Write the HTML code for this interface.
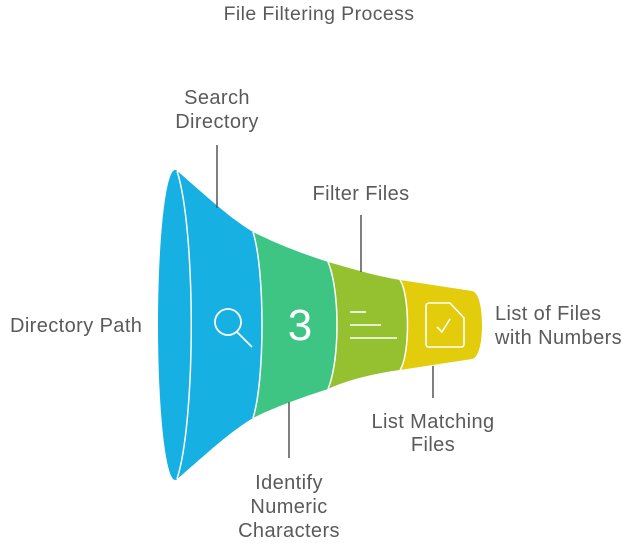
<!DOCTYPE html>
<html><head><style>
body{margin:0;background:#fff;}
svg text{font-family:"Liberation Sans",sans-serif;fill:#5a5a5a;font-size:20px;letter-spacing:0.4px;}
</style></head><body>
<svg width="638" height="542" viewBox="0 0 638 542" xmlns="http://www.w3.org/2000/svg">
<text x="319" y="20" text-anchor="middle" style="font-size:19.5px">File Filtering Process</text>
<path d="M472,291 C478,292 482,305 482,325 C482,345 478,358 472,359 L400,370 C410,355 410,295 400,280 Z" fill="#e2cc0b"/>
<path d="M400,280 C410,295 410,355 400,370 C370,374 345,381 328,389 C340,360 340,290 328,262 C350,268 375,276 400,280 Z" fill="#95c131"/>
<path d="M328,262 C340,290 340,360 328,389 C300,398 275,407 253,418 C265,380 265,270 253,232 C275,243 300,253 328,262 Z" fill="#3ec583"/>
<path d="M176,170 C200,190 225,215 253,232 C265,270 265,380 253,418 C225,435 200,460 176,480 Z" fill="#16b0e2"/>
<ellipse cx="175" cy="325" rx="17" ry="155" fill="#16b0e2"/>
<path d="M177,171 C196,230 196,420 177,479" fill="none" stroke="#fff" stroke-width="1.5"/>
<path d="M253,232 C265,270 265,380 253,418" fill="none" stroke="#fff" stroke-width="1.5"/>
<path d="M328,262 C340,290 340,360 328,389" fill="none" stroke="#fff" stroke-width="1.5"/>
<path d="M400,280 C410,295 410,355 400,370" fill="none" stroke="#fff" stroke-width="1.5"/>
<circle cx="228" cy="322" r="13" fill="none" stroke="#fff" stroke-width="1.8"/>
<line x1="237" y1="332" x2="252" y2="347" stroke="#fff" stroke-width="1.8"/>
<text x="300" y="340" text-anchor="middle" style="font-size:44px;fill:#fff;letter-spacing:0">3</text>
<g stroke="#fff" stroke-width="1.6">
<line x1="350" y1="312" x2="366" y2="312"/><line x1="350" y1="325" x2="381" y2="325"/><line x1="350" y1="338" x2="397" y2="338"/></g>
<path d="M430,303 L450,303 L464,318 L464,344 Q464,347 461,347 L429,347 Q426,347 426,344 L426,306 Q426,303 430,303 Z" fill="none" stroke="#fff" stroke-width="1.6"/>
<path d="M437,327 L442,332 L450,319" fill="none" stroke="#fff" stroke-width="1.6"/>
<g stroke="#555" stroke-width="1.5">
<line x1="217" y1="145" x2="217" y2="208"/>
<line x1="361" y1="215" x2="361" y2="272"/>
<line x1="289" y1="402" x2="289" y2="458"/>
<line x1="433" y1="366" x2="433" y2="398"/>
</g>
<text x="217" y="104" text-anchor="middle">Search</text>
<text x="217" y="128" text-anchor="middle">Directory</text>
<text x="361" y="200" text-anchor="middle">Filter Files</text>
<text x="10" y="332">Directory Path</text>
<text x="289" y="489" text-anchor="middle">Identify</text>
<text x="289" y="513" text-anchor="middle">Numeric</text>
<text x="289" y="537" text-anchor="middle">Characters</text>
<text x="433" y="428" text-anchor="middle">List Matching</text>
<text x="433" y="451" text-anchor="middle">Files</text>
<text x="495" y="320">List of Files</text>
<text x="495" y="344">with Numbers</text>
</svg>
</body></html>
